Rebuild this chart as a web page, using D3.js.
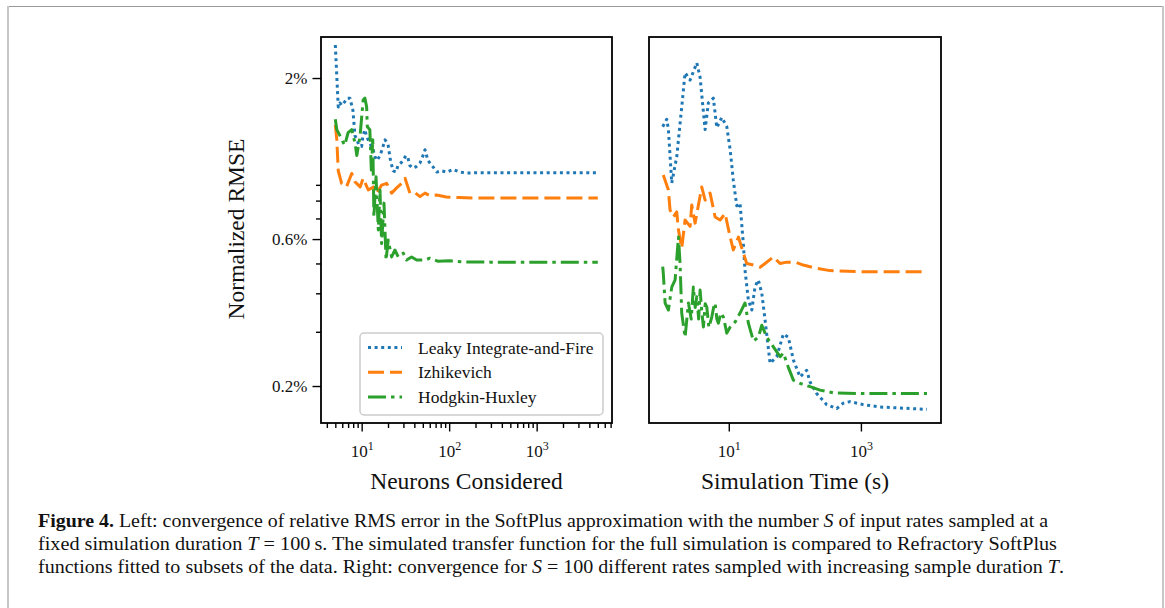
<!DOCTYPE html>
<html>
<head>
<meta charset="utf-8">
<script src="https://cdn.jsdelivr.net/npm/d3@7"></script>
<style>
  html, body { margin: 0; padding: 0; background: #ffffff; }
  svg { display: block; }
</style>
</head>
<body>
<svg id="fig" width="1165" height="608"></svg>
<script>
// ---------- data: [neurons considered, normalized RMSE in %] at T = 100 s ----------
const lifByNeurons = [
  [5, 2.56], [5.4, 1.61], [5.65, 1.66], [5.95, 1.63], [6.44, 1.68], [6.8, 1.72], [7.35, 1.72],
  [7.95, 1.57], [8.38, 1.30], [8.84, 1.26], [9.31, 1.21], [10, 1.20], [10.3, 1.29], [10.9, 1.36],
  [11.4, 1.29], [12.4, 1.23], [13.5, 1.17], [14.2, 1.11], [15.0, 1.08], [16.2, 1.12], [17.1, 1.17],
  [18.5, 1.26], [20.0, 1.22], [21.1, 1.10], [22.8, 1.00], [24.7, 0.99], [26.0, 1.04], [28.1, 1.06],
  [29.6, 1.08], [32.1, 1.12], [33.8, 1.10], [35.6, 1.04], [38.6, 1.02], [41.7, 1.03], [46.4, 1.06],
  [50.2, 1.12], [52.9, 1.17], [57.2, 1.08], [65.3, 1.03], [72.5, 0.99], [80.6, 1.00], [94.4, 0.99],
  [110, 1.01], [133, 0.99], [160, 0.983], [200, 0.985], [400, 0.985], [1000, 0.985], [5000, 0.985]
];
const izhByNeurons = [
  [5, 1.41], [5.2, 1.26], [5.4, 1.0], [5.9, 0.91], [6.7, 0.886], [7.7, 0.98], [8.4, 0.92],
  [9.6, 0.886], [10.4, 0.945], [11.9, 0.866], [13.6, 0.886], [14.8, 0.846], [16.9, 0.898],
  [19.3, 0.91], [22.0, 0.846], [25.1, 0.88], [28.6, 0.91], [31.3, 0.945], [35.6, 0.846],
  [40.4, 0.85], [46.4, 0.824], [52.9, 0.846], [60, 0.83], [72, 0.834], [93, 0.822], [130, 0.818],
  [200, 0.815], [1000, 0.815], [5000, 0.815]
];
const hhByNeurons = [
  [5, 1.47], [5.2, 1.36], [5.65, 1.30], [6.2, 1.23], [6.4, 1.21], [7.0, 1.33], [7.7, 1.36],
  [8.4, 1.23], [8.8, 1.12], [9.6, 1.30], [10.4, 1.70], [10.9, 1.72], [11.4, 1.61], [11.6, 1.39],
  [12.4, 1.36], [12.9, 1.005], [13.4, 1.26], [13.8, 0.71], [14.6, 0.956], [15.5, 0.642],
  [16.2, 0.866], [16.9, 0.58], [18.0, 0.785], [19.0, 0.513], [20.1, 0.596], [22.0, 0.525],
  [24.0, 0.553], [26.2, 0.525], [29.9, 0.54], [32.6, 0.513], [37.2, 0.525], [42.5, 0.513],
  [53, 0.513], [60, 0.52], [75, 0.508], [100, 0.51], [150, 0.506], [300, 0.505], [5000, 0.505]
];

// ---------- data: [simulation time in s, normalized RMSE in %] at S = 100 ----------
const lifByTime = [
  [1.0, 1.39], [1.15, 1.47], [1.22, 1.36], [1.37, 0.912], [1.63, 1.11], [1.94, 1.61], [2.18, 2.08],
  [2.6, 1.97], [3.28, 2.24], [3.68, 2.01], [4.38, 1.36], [4.91, 1.66], [5.85, 1.72], [6.58, 1.38],
  [7.84, 1.49], [9.33, 1.39], [10.5, 1.17], [11.7, 0.933], [13.2, 0.77], [14.8, 0.785],
  [16.6, 0.58], [17.6, 0.476], [19.8, 0.38], [22.3, 0.353], [25.0, 0.421], [28.0, 0.442],
  [31.6, 0.40], [35.4, 0.328], [42.2, 0.237], [53.2, 0.249], [67, 0.295], [79.7, 0.288],
  [95, 0.243], [120, 0.214], [151, 0.225], [170, 0.206], [214, 0.189], [304, 0.174],
  [430, 0.169], [542, 0.176], [684, 0.178], [1087, 0.174], [1945, 0.171], [10000, 0.168]
];
const izhByTime = [
  [1.02, 0.968], [1.22, 0.866], [1.29, 0.746], [1.45, 0.708], [1.63, 0.735], [1.73, 0.642],
  [1.94, 0.56], [2.18, 0.692], [2.6, 0.66], [2.75, 0.774], [3.09, 0.676], [3.9, 0.885],
  [4.38, 0.803], [5.21, 0.847], [6.21, 0.708], [7.39, 0.692], [8.79, 0.727], [10.5, 0.609],
  [11.7, 0.553], [14.0, 0.609], [16.6, 0.541], [18.7, 0.50], [23.6, 0.494], [29.8, 0.486],
  [35.4, 0.50], [47.3, 0.525], [59.7, 0.50], [75.4, 0.505], [100.7, 0.505], [134, 0.494],
  [214, 0.482], [341, 0.474], [1087, 0.47], [10000, 0.47]
];
const hhByTime = [
  [1.0, 0.488], [1.02, 0.465], [1.087, 0.372], [1.22, 0.353], [1.37, 0.419], [1.54, 0.442],
  [1.73, 0.609], [1.83, 0.50], [1.94, 0.345], [2.18, 0.288], [2.45, 0.372], [2.7, 0.33],
  [2.91, 0.419], [3.1, 0.36], [3.28, 0.39], [3.5, 0.33], [3.68, 0.41], [3.9, 0.35], [4.13, 0.311],
  [4.4, 0.37], [4.65, 0.361], [5.0, 0.31], [5.53, 0.335], [5.9, 0.36], [6.21, 0.372], [6.6, 0.33],
  [6.96, 0.32], [7.6, 0.345], [8.29, 0.335], [9.33, 0.297], [10.5, 0.311], [12.5, 0.323],
  [14.8, 0.345], [17.6, 0.372], [19.8, 0.32], [23.6, 0.28], [28.0, 0.288], [31.6, 0.315],
  [37.6, 0.288], [47.3, 0.268], [59.7, 0.249], [67, 0.256], [79.7, 0.23], [95, 0.209],
  [120, 0.204], [170, 0.199], [241, 0.194], [382, 0.19], [1087, 0.189], [10000, 0.189]
];

// ---------- tick values and labels ----------
const yMajorTicks = [0.2, 0.6, 2];
const yMinorTicks = [0.3, 0.4, 0.5, 0.7, 0.8, 0.9];
const neuronMajorTicks = [10, 100, 1000];
const neuronMinorTicks = [4, 5, 6, 7, 8, 9, 20, 30, 40, 50, 60, 70, 80, 90,
                          200, 300, 400, 500, 600, 700, 800, 900, 2000, 3000, 4000, 5000, 6000, 7000];
const timeMajorTicks = [10, 1000];

const seriesNames = ["Leaky Integrate-and-Fire", "Izhikevich", "Hodgkin-Huxley"];
const seriesColors = ["#1f77b4", "#ff7f0e", "#2ca02c"];
const seriesDashes = ["3,3.6", "16,6", "18,5,3.5,5"];

const captionLines = [
  [["Figure 4.", "b"], [" Left: convergence of relative RMS error in the SoftPlus approximation with the number ", ""], ["S", "i"], [" of input rates sampled at a", ""]],
  [["fixed simulation duration ", ""], ["T", "i"], [" = 100\u2009s. The simulated transfer function for the full simulation is compared to Refractory SoftPlus", ""]],
  [["functions fitted to subsets of the data. Right: convergence for ", ""], ["S", "i"], [" = 100 different rates sampled with increasing sample duration ", ""], ["T", "i"], [".", ""]]
];
const captionWidths = [1010, 1019, 1026];

const SERIF = '"Liberation Serif", "Times New Roman", serif';

// ---------- drawing ----------
const svg = d3.select("#fig");

// page frame around the figure
svg.append("line").attr("x1", 7).attr("x2", 1163).attr("y1", 6.5).attr("y2", 6.5)
  .attr("stroke", "#9a9a9a").attr("stroke-width", 1);
svg.append("line").attr("x1", 8).attr("x2", 8).attr("y1", 6).attr("y2", 608)
  .attr("stroke", "#c6c6c6").attr("stroke-width", 2);
svg.append("line").attr("x1", 1163).attr("x2", 1163).attr("y1", 6).attr("y2", 608)
  .attr("stroke", "#c6c6c6").attr("stroke-width", 2);

const plotTop = 37, plotBottom = 423;
const y = d3.scaleLog().domain([0.1517, 2.718]).range([plotBottom, plotTop]);

const panels = [
  { id: "left",  x: d3.scaleLog().domain([3.43, 7260]).range([321, 612]),
    series: [lifByNeurons, izhByNeurons, hhByNeurons],
    majors: neuronMajorTicks, minors: neuronMinorTicks, label: "Neurons Considered", yTicks: true },
  { id: "right", x: d3.scaleLog().domain([0.62, 16300]).range([649, 941]),
    series: [lifByTime, izhByTime, hhByTime],
    majors: timeMajorTicks, minors: [], label: "Simulation Time (s)", yTicks: false }
];

const defs = svg.append("defs");

panels.forEach(p => {
  const [x0, x1] = p.x.range();
  defs.append("clipPath").attr("id", "clip-" + p.id)
    .append("rect").attr("x", x0).attr("y", plotTop).attr("width", x1 - x0).attr("height", plotBottom - plotTop);

  const g = svg.append("g");
  const lines = g.append("g").attr("clip-path", `url(#clip-${p.id})`);
  const lineGen = d3.line().x(d => p.x(d[0])).y(d => y(d[1]));
  p.series.forEach((s, i) => {
    lines.append("path").datum(s).attr("d", lineGen)
      .attr("fill", "none").attr("stroke", seriesColors[i]).attr("stroke-width", 3)
      .attr("stroke-dasharray", seriesDashes[i]).attr("stroke-linejoin", "round");
  });

  // x axis: major ticks with power-of-ten labels, then minor ticks
  const xMajor = g.append("g").attr("transform", `translate(0,${plotBottom})`)
    .call(d3.axisBottom(p.x).tickValues(p.majors).tickSize(8.5).tickPadding(0).tickFormat(() => ""));
  xMajor.selectAll(".tick text").attr("y", 34).attr("dy", null).style("font-size", "17px")
    .each(function(d) {
      const t = d3.select(this);
      t.append("tspan").text("10");
      t.append("tspan").attr("dy", -7.5).style("font-size", "12px").text(Math.round(Math.log10(d)));
    });
  if (p.minors.length) {
    g.append("g").attr("transform", `translate(0,${plotBottom})`)
      .call(d3.axisBottom(p.x).tickValues(p.minors).tickSize(5).tickFormat(() => ""));
  }

  // y axis (shared scale, labelled only on the left panel)
  if (p.yTicks) {
    g.append("g").attr("transform", `translate(${x0},0)`)
      .call(d3.axisLeft(y).tickValues(yMajorTicks).tickSize(8.5).tickPadding(5).tickFormat(d => d + "%"))
      .selectAll(".tick text").style("font-size", "17px");
    g.append("g").attr("transform", `translate(${x0},0)`)
      .call(d3.axisLeft(y).tickValues(yMinorTicks).tickSize(5).tickFormat(() => ""));
  }

  g.selectAll(".domain").remove();
  g.selectAll(".tick line").attr("stroke", "#000").attr("stroke-width", 1.4);
  g.selectAll(".tick text").attr("fill", "#111").style("font-family", SERIF);

  // frame
  g.append("rect").attr("x", x0).attr("y", plotTop).attr("width", x1 - x0).attr("height", plotBottom - plotTop)
    .attr("fill", "none").attr("stroke", "#000").attr("stroke-width", 1.8);

  // x axis title
  g.append("text").attr("x", (x0 + x1) / 2).attr("y", 489).attr("text-anchor", "middle")
    .style("font-family", SERIF).style("font-size", "23.5px").attr("fill", "#111").text(p.label);
});

// y axis title
svg.append("text").attr("transform", "translate(244,229) rotate(-90)")
  .attr("text-anchor", "middle").style("font-family", SERIF).style("font-size", "23.5px")
  .attr("fill", "#111").text("Normalized RMSE");

// legend in the left panel
const legend = svg.append("g");
legend.append("rect").attr("x", 360).attr("y", 333).attr("width", 243).attr("height", 82)
  .attr("rx", 4).attr("fill", "#fff").attr("fill-opacity", 0.85)
  .attr("stroke", "#cccccc").attr("stroke-width", 1.5);
seriesNames.forEach((name, i) => {
  const ry = 347.5 + i * 24.7;
  legend.append("line").attr("x1", 368).attr("x2", 402).attr("y1", ry).attr("y2", ry)
    .attr("stroke", seriesColors[i]).attr("stroke-width", 3).attr("stroke-dasharray", seriesDashes[i]);
  legend.append("text").attr("x", 418).attr("y", ry + 6)
    .style("font-family", SERIF).style("font-size", "17.5px").attr("fill", "#111").text(name);
});

// caption
captionLines.forEach((parts, i) => {
  const t = svg.append("text").attr("x", 38).attr("y", 527 + i * 23)
    .style("font-family", SERIF).style("font-size", "18px").attr("fill", "#111")
    .attr("textLength", captionWidths[i]).attr("lengthAdjust", "spacingAndGlyphs");
  parts.forEach(([str, style]) => {
    const ts = t.append("tspan").text(str);
    if (style === "b") ts.style("font-weight", "bold");
    if (style === "i") ts.style("font-style", "italic");
  });
});
</script>
</body>
</html>
